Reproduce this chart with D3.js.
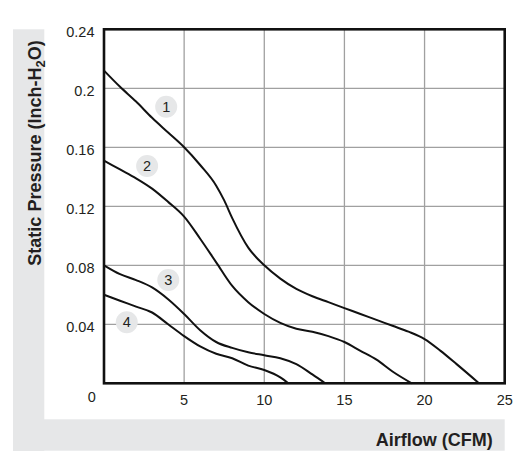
<!DOCTYPE html>
<html>
<head>
<meta charset="utf-8">
<script src="https://cdn.jsdelivr.net/npm/d3@7"></script>
<style>
  body { margin: 0; background: #fff; }
  text { font-family: "Liberation Sans", Arial, sans-serif; fill: #231f20; }
</style>
</head>
<body>
<div id="chart"></div>
<script>
  // fan curves, airflow (CFM) vs static pressure (inch-H2O)
  const curve1 = [[0,0.212],[1,0.201],[2,0.191],[3,0.180],[4,0.170],[5,0.160],[6,0.148],[7,0.134],[7.5,0.124],[8,0.112],[9,0.092],[10,0.080],[11,0.071],[12,0.064],[13,0.059],[14,0.055],[15,0.051],[16,0.047],[17,0.043],[18,0.039],[19,0.035],[20,0.030],[21,0.022],[22,0.013],[23.4,0]];
  const curve2 = [[0,0.151],[1,0.145],[2,0.139],[3,0.132],[4,0.123],[5,0.113],[6,0.098],[7,0.082],[8,0.066],[9,0.055],[10,0.047],[11,0.041],[12,0.037],[13,0.035],[14,0.032],[15,0.028],[16,0.022],[17,0.016],[18,0.008],[19.2,0]];
  const curve3 = [[0,0.080],[1,0.074],[2,0.070],[3,0.065],[4,0.057],[5,0.047],[6,0.036],[7,0.028],[8,0.024],[9,0.021],[10,0.019],[11,0.017],[12,0.013],[13,0.006],[13.8,0]];
  const curve4 = [[0,0.060],[1,0.056],[2,0.052],[3,0.048],[4,0.040],[5,0.032],[6,0.025],[7,0.020],[8,0.017],[9,0.012],[10,0.009],[11,0.004],[11.5,0]];
  const curves = [curve1, curve2, curve3, curve4];

  // numbered markers next to each curve
  const markerNames = ['1', '2', '3', '4'];
  const markerPos = [[3.88,0.1875],[2.69,0.1473],[4.01,0.070],[1.42,0.0414]];

  const xTicks = [0, 5, 10, 15, 20, 25];
  const yTicks = [0, 0.04, 0.08, 0.12, 0.16, 0.2, 0.24];

  const W = 518, H = 468;
  const plot = { left: 104, right: 504.7, top: 29.3, bottom: 383.3 };

  const svg = d3.select("#chart")
    .append("svg")
    .attr("width", W)
    .attr("height", H);

  const x = d3.scaleLinear().domain([0, 25]).range([plot.left, plot.right]);
  const y = d3.scaleLinear().domain([0, 0.24]).range([plot.bottom, plot.top]);

  // grey L-shaped backdrop behind the axis titles
  svg.append("rect")
    .attr("x", 13).attr("y", plot.top)
    .attr("width", 31.3).attr("height", 451 - plot.top)
    .style("fill", "#e6e7e8");
  svg.append("rect")
    .attr("x", 13).attr("y", 419.3)
    .attr("width", plot.right - 13).attr("height", 31.4)
    .style("fill", "#e6e7e8");

  // grid
  svg.append("g")
    .selectAll("line")
    .data(xTicks.slice(1, -1))
    .enter().append("line")
    .attr("x1", d => x(d)).attr("x2", d => x(d))
    .attr("y1", plot.top).attr("y2", plot.bottom)
    .style("stroke", "#a0a0a0")
    .style("stroke-width", 1.3);

  svg.append("g")
    .selectAll("line")
    .data(yTicks.slice(1, -1))
    .enter().append("line")
    .attr("x1", plot.left).attr("x2", plot.right)
    .attr("y1", d => y(d)).attr("y2", d => y(d))
    .style("stroke", "#a0a0a0")
    .style("stroke-width", 1.3);

  // frame
  svg.append("rect")
    .attr("x", plot.left).attr("y", plot.top)
    .attr("width", plot.right - plot.left).attr("height", plot.bottom - plot.top)
    .style("fill", "none")
    .style("stroke", "#111")
    .style("stroke-width", 2.6);

  // tick labels
  svg.append("g")
    .selectAll("text")
    .data(yTicks.slice(1))
    .enter().append("text")
    .attr("x", plot.left - 9.5)
    .attr("y", d => y(d) + 7.5)
    .attr("text-anchor", "end")
    .style("font-size", "14.5px")
    .text(d => d);

  svg.append("g")
    .selectAll("text")
    .data(xTicks)
    .enter().append("text")
    .attr("x", d => d === 0 ? x(d) - 12.3 : x(d))
    .attr("y", d => d === 0 ? plot.bottom + 18.4 : plot.bottom + 21.7)
    .attr("text-anchor", "middle")
    .style("font-size", "14.5px")
    .text(d => d);

  // curves
  const line = d3.line()
    .x(d => x(d[0]))
    .y(d => y(d[1]))
    .curve(d3.curveMonotoneX);

  svg.append("g")
    .selectAll("path")
    .data(curves)
    .enter().append("path")
    .attr("d", line)
    .style("fill", "none")
    .style("stroke", "#111")
    .style("stroke-width", 2);

  // markers
  const markers = svg.append("g")
    .selectAll("g")
    .data(markerNames)
    .enter().append("g")
    .attr("transform", (d, i) => `translate(${x(markerPos[i][0])},${y(markerPos[i][1])})`);

  markers.append("circle")
    .attr("r", 11)
    .style("fill", "#e6e7e8");

  markers.append("text")
    .attr("text-anchor", "middle")
    .attr("dy", "0.36em")
    .style("font-size", "14.5px")
    .text(d => d);

  // axis titles
  const yTitle = svg.append("text")
    .attr("transform", "translate(41,153) rotate(-90)")
    .attr("text-anchor", "middle")
    .style("font-size", "18px")
    .style("font-weight", "bold");
  yTitle.append("tspan").text("Static Pressure (Inch-H");
  yTitle.append("tspan").attr("dy", 4).style("font-size", "13px").text("2");
  yTitle.append("tspan").attr("dy", -4).text("O)");

  svg.append("text")
    .attr("x", 492.7)
    .attr("y", 445.5)
    .attr("text-anchor", "end")
    .style("font-size", "18px")
    .style("font-weight", "bold")
    .text("Airflow (CFM)");
</script>
</body>
</html>
